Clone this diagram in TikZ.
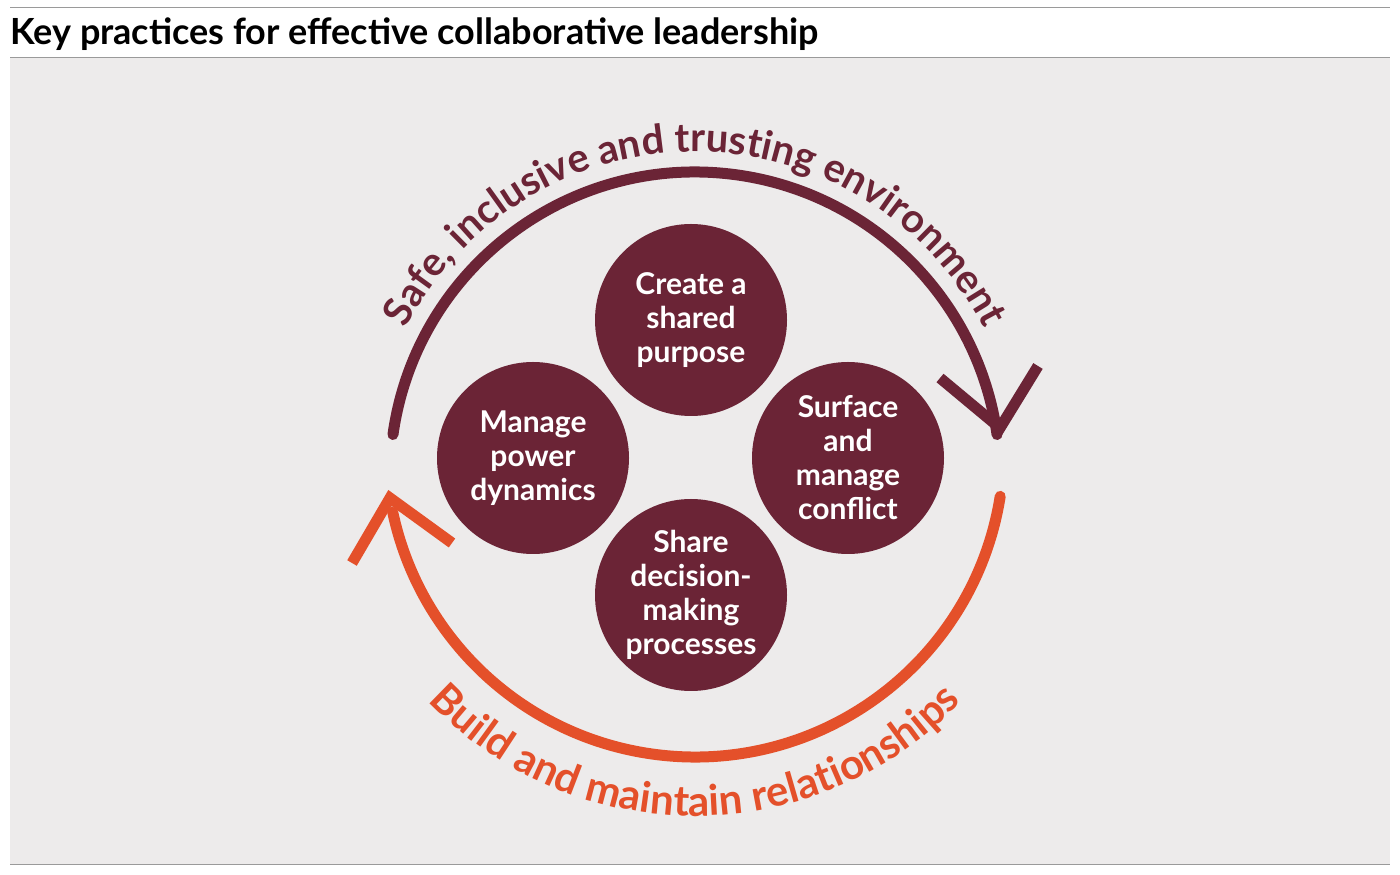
\documentclass[tikz,border=0pt]{standalone}
\usepackage{fontspec}
\setmainfont{Lato}
\usetikzlibrary{decorations.text}
\definecolor{maroon}{HTML}{6B2436}
\definecolor{orng}{HTML}{E4502A}
\definecolor{bg}{HTML}{EDEBEB}
\definecolor{rule}{HTML}{9A9A9A}
\tikzset{
  practice/.style={circle,fill=maroon,minimum size=192pt,inner sep=0pt,text=white,align=center,font=\bfseries\fontsize{30}{34}\selectfont},
  bigarc/.style={line width=11pt},
}
\begin{document}
\begin{tikzpicture}[x=1pt,y=1pt]
\useasboundingbox (0,0) rectangle (1400,875);
\fill[white] (0,0) rectangle (1400,875);
\fill[bg] (10,10) rectangle (1390,817);
\draw[rule,line width=1pt] (10,867) -- (1390,867);
\draw[rule,line width=1pt] (10,817) -- (1390,817);
\draw[rule,line width=1pt] (10,10) -- (1390,10);
\node[anchor=base west,inner sep=0pt,font=\bfseries\fontsize{36}{36}\selectfont] (title) at (10,830) {Key practices for effective collaborative leadership};

\node[practice] (c1) at (691,555) {Create a\\shared\\purpose};
\node[practice] (c2) at (533,417) {Manage\\power\\dynamics};
\node[practice] (c3) at (848,417) {Surface\\and\\manage\\conflict};
\node[practice] (c4) at (691,280) {Share\\decision-\\making\\processes};

% top arc
\coordinate (tc) at (695,398);
\draw[maroon,bigarc,line cap=round] ([shift={(172:305)}]tc) arc[start angle=172,end angle=8,radius=305];
\coordinate (ttip) at (1000,447);
\draw[maroon,bigarc,line join=miter] (940,497) -- (ttip) -- (1038,509);
% bottom arc
\coordinate (bc) at (695,427);
\draw[orng,bigarc,line cap=round] ([shift={(-9:309)}]bc) arc[start angle=-9,end angle=-168,radius=309];
\coordinate (btip) at (390,377);
\draw[orng,bigarc,line join=miter] (352,312) -- (btip) -- (452,332);

% curved texts
\path[decorate,decoration={text along path,text align=center,
  text={|\bfseries\fontsize{40}{40}\selectfont\color{maroon}|Safe, inclusive and trusting environment}}]
  ([shift={(164:325)}]tc) arc[start angle=164,end angle=16,radius=325];
\path[decorate,decoration={text along path,text align=center,
  text={|\bfseries\fontsize{42}{42}\selectfont\color{orng}|Build and maintain relationships}}]
  ([shift={(206:368)}]bc) arc[start angle=206,end angle=334,radius=368];
\end{tikzpicture}
\end{document}
